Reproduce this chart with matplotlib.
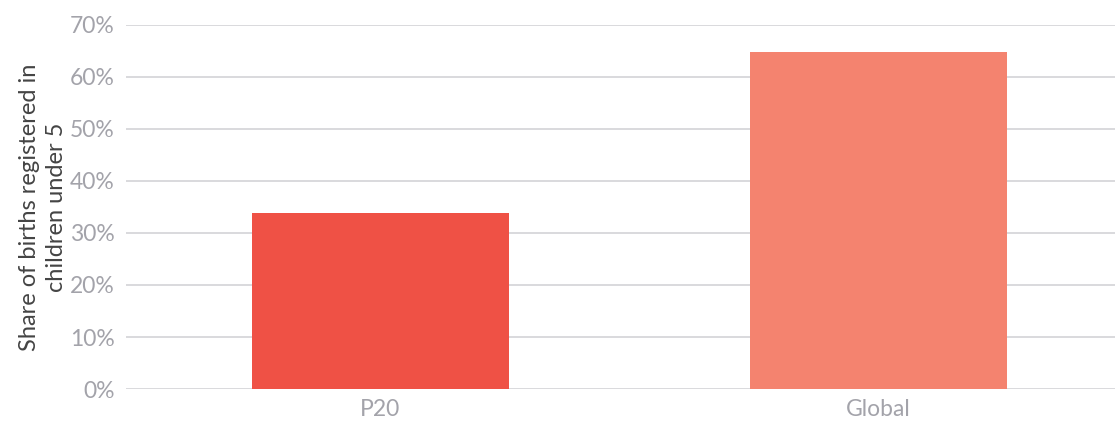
import matplotlib
matplotlib.use("Agg")
from matplotlib import pyplot as plt
from matplotlib.ticker import FuncFormatter

# Data
categories = ["P20", "Global"]
values = [33.8, 64.7]
bar_colors = ["#EF5145", "#F4836F"]
y_ticks = [0, 10, 20, 30, 40, 50, 60, 70]

plt.rcParams["font.family"] = ["Lato", "DejaVu Sans"]

fig = plt.figure(figsize=(11.15, 4.23), dpi=100)
ax = fig.add_axes([0.113, 0.080, 0.887, 0.862])

x = range(len(categories))
ax.bar(x, values, width=0.516, color=bar_colors, zorder=2)

ax.set_ylim(0, 70)
ax.set_xlim(-0.51, 1.475)
ax.set_yticks(y_ticks)
ax.yaxis.set_major_formatter(FuncFormatter(lambda v, p: f"{v:.0f}%"))
ax.set_xticks(list(x))
ax.set_xticklabels(categories)

ax.grid(axis="y", color="#CFCFD3", linewidth=1.1, zorder=0)
for s in ax.spines.values():
    s.set_visible(False)
ax.tick_params(axis="both", length=0, labelsize=16.5, labelcolor="#A3A3AA")
ax.tick_params(axis="y", pad=8)
ax.tick_params(axis="x", pad=7)

ax.set_ylabel("Share of births registered in\nchildren under 5", fontsize=17,
              color="#444444", linespacing=1.35, labelpad=2)

fig.savefig("out.png", dpi=100)
